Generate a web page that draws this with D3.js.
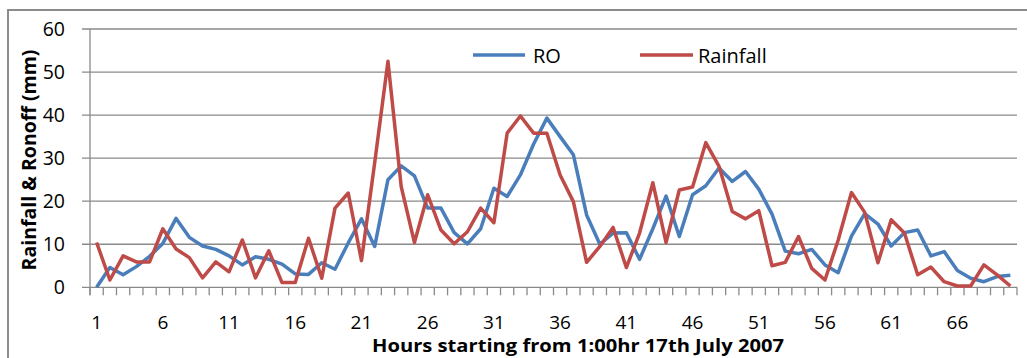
<!DOCTYPE html>
<html>
<head>
<meta charset="utf-8">
<script src="https://cdn.jsdelivr.net/npm/d3@7"></script>
<style>
  html, body { margin: 0; padding: 0; background: #fff; }
  svg { display: block; }
</style>
</head>
<body>
<svg id="chart" width="1027" height="358"></svg>
<script>
// ---- data ----
const hours = d3.range(1, 71);
const roValues = [
  0, 4.6, 2.9, 4.8, 7.2, 10.2, 16.0, 11.6, 9.6, 8.8,
  7.3, 5.2, 7.1, 6.5, 5.4, 3.1, 3.0, 5.7, 4.2, 10.3,
  15.9, 9.5, 25.0, 28.2, 25.9, 18.4, 18.4, 12.7, 10.1, 13.6,
  23.0, 21.1, 26.1, 33.3, 39.3, 35.0, 30.8, 16.8, 10.0, 12.6,
  12.7, 6.5, 13.6, 21.2, 11.8, 21.5, 23.6, 27.7, 24.6, 26.9,
  22.8, 17.0, 8.4, 7.8, 8.8, 5.2, 3.4, 11.9, 17.1, 14.7,
  9.6, 12.7, 13.3, 7.3, 8.3, 3.9, 2.1, 1.3, 2.5, 2.8
];
const rainValues = [
  10.4, 1.7, 7.3, 5.9, 5.9, 13.6, 8.9, 6.9, 2.2, 5.9,
  3.6, 11.0, 2.2, 8.5, 1.1, 1.1, 11.4, 2.1, 18.4, 21.9,
  6.2, 29.0, 52.5, 23.4, 10.4, 21.5, 13.3, 10.1, 12.9, 18.4,
  15.0, 35.8, 39.8, 35.8, 35.8, 26.1, 19.9, 5.8, 9.5, 13.9,
  4.6, 12.6, 24.3, 10.4, 22.6, 23.3, 33.6, 28.1, 17.6, 15.9,
  17.8, 5.0, 5.8, 11.8, 4.4, 1.7, 11.0, 22.0, 17.4, 5.7,
  15.7, 12.6, 2.9, 4.7, 1.3, 0.3, 0.3, 5.2, 2.9, 0.3
];
const yTicks = [0, 10, 20, 30, 40, 50, 60];
const xTickLabels = [1, 6, 11, 16, 21, 26, 31, 36, 41, 46, 51, 56, 61, 66];
const seriesNames = ["RO", "Rainfall"];
const seriesColors = ["#4A7EBB", "#BE4B48"];
const xTitle = "Hours starting from 1:00hr 17th July 2007";
const yTitle = "Rainfall & Ronoff (mm)";

(function () {
// ---- layout ----
const svg = d3.select("#chart");
const pLeft = 90, pRight = 1017, pTop = 29, pBottom = 287.3;

const x = d3.scaleBand().domain(hours).range([pLeft, pRight]).padding(0);
const y = d3.scaleLinear().domain([0, 60]).range([pBottom, pTop]);
const cx = d => x(d) + x.bandwidth() / 2;

// outer border
svg.append("rect")
  .attr("x", 8).attr("y", 10).attr("width", 1040).attr("height", 380)
  .attr("fill", "none").attr("stroke", "#8c8c8c").attr("stroke-width", 2);

const gridColor = "#8a8a8a";
// gridlines (with outward ticks)
svg.append("g").selectAll("line").data(yTicks).join("line")
  .attr("x1", pLeft - 8).attr("x2", pRight)
  .attr("y1", d => y(d)).attr("y2", d => y(d))
  .attr("stroke", gridColor).attr("stroke-width", 1.3);

// y axis line
svg.append("line")
  .attr("x1", pLeft).attr("x2", pLeft).attr("y1", pTop).attr("y2", pBottom + 8)
  .attr("stroke", gridColor).attr("stroke-width", 1.3);

// x tick marks at band boundaries
const bounds = hours.map(h => x(h)).concat([pRight]);
svg.append("g").selectAll("line").data(bounds).join("line")
  .attr("x1", d => d).attr("x2", d => d)
  .attr("y1", pBottom).attr("y2", pBottom + 8)
  .attr("stroke", gridColor).attr("stroke-width", 1.3);

// y tick labels
svg.append("g").selectAll("text").data(yTicks).join("text")
  .attr("x", 65).attr("y", d => y(d))
  .attr("dy", "0.35em")
  .attr("text-anchor", "end")
  .attr("font-family", "Open Sans")
  .attr("font-size", 19.5)
  .attr("fill", "#000")
  .text(d => d);

// x tick labels
svg.append("g").selectAll("text").data(xTickLabels).join("text")
  .attr("x", d => cx(d)).attr("y", 328.5)
  .attr("text-anchor", "middle")
  .attr("font-family", "Open Sans")
  .attr("font-size", 19)
  .attr("fill", "#000")
  .text(d => d);

// axis titles
svg.append("text")
  .attr("x", 578).attr("y", 352)
  .attr("text-anchor", "middle")
  .attr("font-family", "Open Sans").attr("font-weight", "bold")
  .attr("font-size", 17).attr("fill", "#000")
  .attr("textLength", 412).attr("lengthAdjust", "spacingAndGlyphs")
  .text(xTitle);

svg.append("text")
  .attr("transform", "translate(36,160) rotate(-90)")
  .attr("text-anchor", "middle")
  .attr("font-family", "Open Sans").attr("font-weight", "bold")
  .attr("font-size", 19.5).attr("fill", "#000")
  .text(yTitle);

// lines
const line = d3.line().x((d, i) => cx(hours[i])).y(d => y(d));
[roValues, rainValues].forEach((vals, k) => {
  svg.append("path")
    .datum(vals)
    .attr("d", line)
    .attr("fill", "none")
    .attr("stroke", seriesColors[k])
    .attr("stroke-width", 3.5)
    .attr("stroke-linejoin", "round");
});

// legend
const legendPos = [{x1: 473, x2: 525, tx: 533}, {x1: 640, x2: 693, tx: 698}];
seriesNames.forEach((name, k) => {
  const p = legendPos[k];
  svg.append("line")
    .attr("x1", p.x1).attr("x2", p.x2).attr("y1", 55).attr("y2", 55)
    .attr("stroke", seriesColors[k]).attr("stroke-width", 3.5);
  svg.append("text")
    .attr("x", p.tx).attr("y", 62.5)
    .attr("font-family", "Open Sans").attr("font-size", 20)
    .attr("fill", "#000")
    .text(name);
});
})();
</script>
</body>
</html>
